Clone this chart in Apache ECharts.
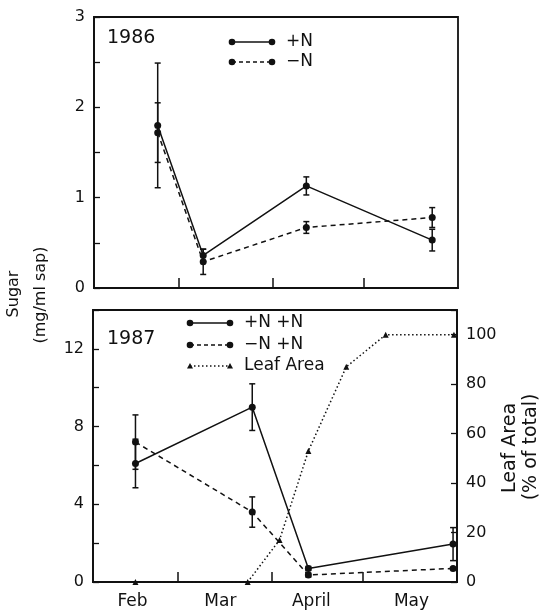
<!DOCTYPE html>
<html>
<head>
<meta charset="utf-8">
<script src="https://cdn.jsdelivr.net/npm/echarts@6/dist/echarts.min.js"></script>
<style>
  html, body { margin: 0; padding: 0; background: #fff; }
  #chart { width: 543px; height: 615px; }
</style>
</head>
<body>
<div id="chart"></div>
<script>
// x values are days counted from 1 February
var monthStarts = [28, 59, 89];
var monthNames = ['Feb', 'Mar', 'April', 'May'];
var monthMids = [13, 42, 72, 105];

// 1986 panel
var days86 = [21, 36, 70, 111.5];
var plusN86 = [1.80, 0.36, 1.13, 0.53];
var plusN86Err = [0.69, 0.07, 0.10, 0.12];
var minusN86 = [1.72, 0.29, 0.67, 0.78];
var minusN86Err = [0.33, 0.14, 0.065, 0.11];

// 1987 panel
var days87 = [14, 52.5, 71, 118.7];
var plusPlus87 = [6.1, 9.0, 0.7, 1.95];
var plusPlus87Err = [1.25, 1.2, 0.1, 0.85];
var minusPlus87 = [7.2, 3.6, 0.36, 0.7];
var minusPlus87Err = [1.4, 0.78, 0.1, 0];

var leafDays = [14, 51, 61.5, 71, 83.5, 96.5, 119];
var leafArea = [0, 0, 17, 53, 87, 100, 100];

var FONT = 'DejaVu Sans';
var INK = '#111';

function pairs(xs, ys, es) {
  return xs.map(function (x, i) {
    return es ? [x, ys[i], es[i]] : [x, ys[i]];
  });
}

function errorBar(params, api) {
  var x = api.value(0), y = api.value(1), e = api.value(2);
  if (!e) return null;
  var hi = api.coord([x, y + e]);
  var lo = api.coord([x, y - e]);
  var cap = 3;
  var st = { stroke: INK, lineWidth: 1.5 };
  return {
    type: 'group',
    children: [
      { type: 'line', shape: { x1: hi[0], y1: hi[1], x2: lo[0], y2: lo[1] }, style: st },
      { type: 'line', shape: { x1: hi[0] - cap, y1: hi[1], x2: hi[0] + cap, y2: hi[1] }, style: st },
      { type: 'line', shape: { x1: lo[0] - cap, y1: lo[1], x2: lo[0] + cap, y2: lo[1] }, style: st }
    ]
  };
}

function xAxisFor(grid, withLabels) {
  return {
    gridIndex: grid, type: 'value', min: 0, max: 120,
    axisLine: { show: true, lineStyle: { color: INK, width: 1.8 } },
    axisTick: { show: true, inside: true, length: 10, customValues: monthStarts,
      lineStyle: { color: INK, width: 1.5 } },
    axisLabel: withLabels ? {
      show: true, customValues: monthMids, margin: 11,
      fontFamily: FONT, fontSize: 17, color: INK,
      formatter: function (v) { return monthNames[monthMids.indexOf(v)] || ''; }
    } : { show: false },
    splitLine: { show: false }
  };
}

function yAxisFor(grid, max, interval, every, pos) {
  return {
    gridIndex: grid, type: 'value', min: 0, max: max, interval: interval, position: pos || 'left',
    axisLine: { show: true, lineStyle: { color: INK, width: 1.8 } },
    axisTick: { show: true, inside: true, length: 6, lineStyle: { color: INK, width: 1.3 } },
    axisLabel: {
      fontFamily: FONT, fontSize: 16, color: INK, margin: 9,
      formatter: function (v) {
        if (v > max - (max % every) || Math.abs(v / every - Math.round(v / every)) > 1e-6) return '';
        return String(v);
      }
    },
    splitLine: { show: false }
  };
}

function lineSeries(name, xa, ya, data, type, symbol, size) {
  return {
    name: name, type: 'line', xAxisIndex: xa, yAxisIndex: ya, data: data,
    symbol: symbol, symbolSize: size, showSymbol: true,
    itemStyle: { color: INK },
    lineStyle: { color: INK, width: 1.5, type: type },
    animation: false, z: 3
  };
}

function barsSeries(xa, ya, data) {
  return {
    type: 'custom', xAxisIndex: xa, yAxisIndex: ya, data: data,
    renderItem: errorBar, encode: { x: 0, y: 1 }, animation: false, z: 2
  };
}

function legendRow(x, y, dash, symbol, label) {
  var kids = [
    { type: 'line', shape: { x1: x, y1: y, x2: x + 40, y2: y },
      style: { stroke: INK, lineWidth: 1.5, lineDash: dash } }
  ];
  [x, x + 40].forEach(function (cx) {
    if (symbol === 'circle') {
      kids.push({ type: 'circle', shape: { cx: cx, cy: y, r: 3.3 }, style: { fill: INK } });
    } else {
      kids.push({ type: 'polygon', shape: { points: [[cx, y - 3], [cx - 3, y + 2.5], [cx + 3, y + 2.5]] },
        style: { fill: INK } });
    }
  });
  kids.push({ type: 'text', x: x + 54, y: y, style: { text: label, fontFamily: FONT, fontSize: 17,
    fill: INK, verticalAlign: 'middle' } });
  return { type: 'group', children: kids };
}

function vText(x, y, text, size) {
  return { type: 'text', x: x, y: y, rotation: Math.PI / 2,
    style: { text: text, fontFamily: FONT, fontSize: size, fill: INK, align: 'center', verticalAlign: 'middle' } };
}

var chart = echarts.init(document.getElementById('chart'), null, { renderer: 'canvas' });

chart.setOption({
  backgroundColor: '#fff',
  animation: false,
  grid: [
    { left: 94, top: 17, width: 364, height: 271, show: true, borderColor: INK, borderWidth: 1.8 },
    { left: 93, top: 310, width: 364, height: 272, show: true, borderColor: INK, borderWidth: 1.8 }
  ],
  xAxis: [xAxisFor(0, false), xAxisFor(1, true)],
  yAxis: [
    yAxisFor(0, 3, 0.5, 1),
    yAxisFor(1, 14, 2, 4),
    yAxisFor(1, 110, 20, 20, 'right')
  ],
  series: [
    barsSeries(0, 0, pairs(days86, plusN86, plusN86Err)),
    barsSeries(0, 0, pairs(days86, minusN86, minusN86Err)),
    lineSeries('+N', 0, 0, pairs(days86, plusN86), 'solid', 'circle', 7),
    lineSeries('-N', 0, 0, pairs(days86, minusN86), [5, 4], 'circle', 7),
    barsSeries(1, 1, pairs(days87, plusPlus87, plusPlus87Err)),
    barsSeries(1, 1, pairs(days87, minusPlus87, minusPlus87Err)),
    lineSeries('+N +N', 1, 1, pairs(days87, plusPlus87), 'solid', 'circle', 7),
    lineSeries('-N +N', 1, 1, pairs(days87, minusPlus87), [5, 4], 'circle', 7),
    lineSeries('Leaf Area', 1, 2, pairs(leafDays, leafArea), [1.5, 2.5], 'triangle', 6)
  ],
  graphic: [
    { type: 'text', x: 107, y: 38, style: { text: '1986', fontFamily: FONT, fontSize: 19, fill: INK, verticalAlign: 'middle' } },
    { type: 'text', x: 107, y: 339, style: { text: '1987', fontFamily: FONT, fontSize: 19, fill: INK, verticalAlign: 'middle' } },
    legendRow(232, 42, null, 'circle', '+N'),
    legendRow(232, 62, [4, 3], 'circle', '\u2212N'),
    legendRow(190, 323, null, 'circle', '+N +N'),
    legendRow(190, 345, [4, 3], 'circle', '\u2212N +N'),
    legendRow(190, 366, [1.5, 2.5], 'triangle', 'Leaf Area'),
    vText(14, 294, 'Sugar', 16),
    vText(41, 295, '(mg/ml sap)', 16),
    vText(510, 448, 'Leaf Area', 19),
    vText(531, 447, '(% of total)', 19)
  ]
});
</script>
</body>
</html>
